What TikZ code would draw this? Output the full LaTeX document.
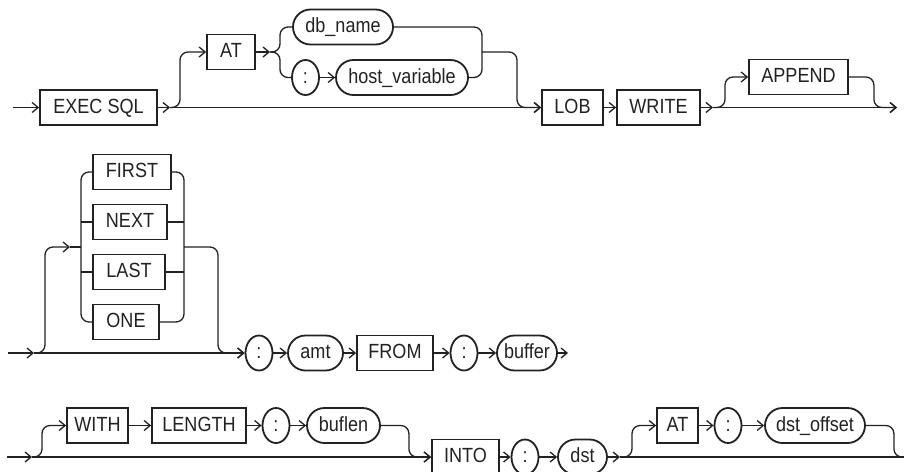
\documentclass[tikz,border=0pt]{standalone}
\usepackage{fontspec}
\setmainfont{Liberation Sans}[FakeStretch=0.88]
\usetikzlibrary{arrows.meta,shapes.misc,shapes.geometric}
\definecolor{ink}{HTML}{222222}
\begin{document}
\begin{tikzpicture}[x=1pt,y=-1pt,
  every node/.style={font=\fontsize{20.5}{22}\selectfont, text=ink, text height=14.7pt, text depth=3.7pt, inner sep=0pt, minimum height=35pt, line width=1.8pt, draw=ink},
  kw/.style={rectangle, draw},
  var/.style={rounded rectangle, draw},
  colon/.style={ellipse, draw, minimum width=27pt},
  conn/.style={draw=ink, line width=1.3pt, rounded corners=8pt},
  arr/.style={conn, -{Straight Barb[length=6pt,width=10pt]}},
]
\fill[white] (0,0) rectangle (904,471);
\useasboundingbox (0,0) rectangle (904,471);

% ---------- row 1 ----------
\node[kw, minimum width=117pt] (exec) at (98.5,107.5) {EXEC SQL};
\node[kw, minimum width=48pt] (at1) at (231,52) {AT};
\node[var, minimum width=100pt] (dbname) at (343,27) {db\_name};
\node[colon] (col1) at (305.5,77.5) {:};
\node[var, minimum width=132pt] (hostvar) at (402,77.5) {host\_variable};
\node[kw, minimum width=61pt] (lob) at (572.5,107.5) {LOB};
\node[kw, minimum width=83pt] (write) at (658.5,107.5) {WRITE};
\node[kw, minimum width=99pt] (append) at (798.5,77) {APPEND};

\coordinate (s1) at (13,107.5);
\coordinate (b1) at (170,107.5);
\coordinate (t1) at (270,52);
\coordinate (j1) at (482,52);
\coordinate (b2) at (713,107.5);
\coordinate (e1) at (897,107.5);

\draw[arr] (s1) -- (exec.west);
\draw[arr] (exec.east) -- (b1);
\draw[arr] (b1) -- (lob.west);
\draw[arr] (b1) -- ++(10,0) |- (at1.west);
\draw[arr] (at1.east) -- (t1);
\draw[conn] (t1) -- ++(10,0) |- (dbname.west);
\draw[conn] (t1) -- ++(10,0) |- (col1.west);
\draw[arr] (col1.east) -- (hostvar.west);
\draw[conn] (dbname.east) -| (j1);
\draw[conn] (hostvar.east) -| (j1);
\draw[arr] (j1) -- ++(35,0) |- (lob.west);
\draw[arr] (lob.east) -- (write.west);
\draw[arr] (write.east) -- (b2);
\draw[arr] (b2) -- (e1);
\draw[arr] (b2) -- ++(12,0) |- (append.west);
\draw[arr] (append.east) -- ++(25,0) |- (e1);

% ---------- row 2 ----------
\node[kw, minimum width=78pt] (first) at (132,172) {FIRST};
\node[kw, minimum width=74pt] (next) at (130,222) {NEXT};
\node[kw, minimum width=72pt] (last) at (129,272) {LAST};
\node[kw, minimum width=66pt] (one) at (126,322) {ONE};
\node[colon] (col2) at (259,353) {:};
\node[var, minimum width=55pt] (amt) at (315.5,353) {amt};
\node[kw, minimum width=76pt] (from) at (395,353) {FROM};
\node[colon] (col3) at (464,353) {:};
\node[var, minimum width=60pt] (buffer) at (527,353) {buffer};

\coordinate (s2) at (8,353);
\coordinate (b3) at (34,353);
\coordinate (e2t) at (70,247);
\coordinate (l3) at (81,247);
\coordinate (r3) at (184,247);
\coordinate (e2) at (568,353);

\draw[arr] (s2) -- (b3);
\draw[arr] (b3) -- (col2.west);
\draw[arr] (b3) -- ++(11,0) |- (e2t);
\draw[conn] (e2t) -- (l3);
\draw[conn] (l3) |- (first.west);
\draw[conn] (l3) |- (one.west);
\draw[conn] (l3 |- next.west) -- (next.west);
\draw[conn] (l3 |- last.west) -- (last.west);
\draw[conn] (first.east) -| (r3);
\draw[conn] (one.east) -| (r3);
\draw[conn] (next.east) -- (next.east -| r3);
\draw[conn] (last.east) -- (last.east -| r3);
\draw[arr] (r3) -- ++(34,0) |- (col2.west);
\draw[arr] (col2.east) -- (amt.west);
\draw[arr] (amt.east) -- (from.west);
\draw[arr] (from.east) -- (col3.west);
\draw[arr] (col3.east) -- (buffer.west);
\draw[arr] (buffer.east) -- (e2);

% ---------- row 3 ----------
\node[kw, minimum width=61pt] (with) at (97.5,425.5) {WITH};
\node[kw, minimum width=94pt] (length) at (199,425.5) {LENGTH};
\node[colon] (col4) at (276,425.5) {:};
\node[var, minimum width=73pt] (buflen) at (343.5,425.5) {buflen};
\node[kw, minimum width=67pt] (into) at (465.5,457) {INTO};
\node[colon] (col5) at (525,457) {:};
\node[var, minimum width=49pt] (dst) at (582.5,457) {dst};
\node[kw, minimum width=41pt] (at2) at (677.5,425.5) {AT};
\node[colon] (col6) at (728,425.5) {:};
\node[var, minimum width=100pt] (dstoff) at (815,425.5) {dst\_offset};

\coordinate (s3) at (7,457);
\coordinate (b4) at (32,457);
\coordinate (b5) at (620,457);
\coordinate (e3) at (904,457);

\draw[arr] (s3) -- (b4);
\draw[arr] (b4) -- (into.west);
\draw[arr] (b4) -- ++(10,0) |- (with.west);
\draw[arr] (with.east) -- (length.west);
\draw[arr] (length.east) -- (col4.west);
\draw[arr] (col4.east) -- (buflen.west);
\draw[arr] (buflen.east) -- ++(28,0) |- (into.west);
\draw[arr] (into.east) -- (col5.west);
\draw[arr] (col5.east) -- (dst.west);
\draw[arr] (dst.east) -- (b5);
\draw[conn] (b5) -- (e3);
\draw[arr] (b5) -- ++(12,0) |- (at2.west);
\draw[arr] (at2.east) -- (col6.west);
\draw[arr] (col6.east) -- (dstoff.west);
\draw[conn] (dstoff.east) -- ++(28,0) |- (e3);
\end{tikzpicture}
\end{document}
